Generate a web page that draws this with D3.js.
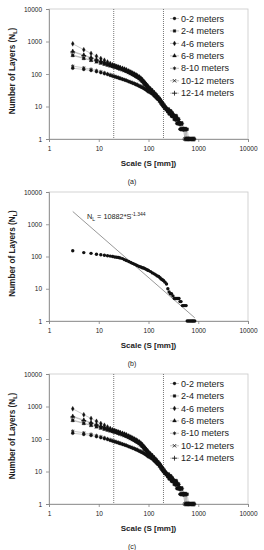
<!DOCTYPE html>
<html>
<head>
<meta charset="utf-8">
<script src="https://cdn.jsdelivr.net/npm/d3@7"></script>
<style>
  body { margin: 0; background: #fff; }
  svg { display: block; }
  text { font-family: "Liberation Sans", Arial, sans-serif; fill: #222; }
</style>
</head>
<body>
<svg id="chart" width="264" height="550"></svg>
<script>
// scale values (mm) at which layers were counted
const scaleGrid = [3,5,7,9,11,13,15,17,19,21,23,25,27,30,33,36,40,44,48,52,56,60,65,70,75,80,85,90,95,100,
  110,120,130,140,150,160,170,180,190,200,215,230,245,260,275,290,310,330,350,370,390,410,430,450,480,
  510,540,570,600,640,680,720,760,800,850];

const seriesNames = ['0-2 meters','2-4 meters','4-6 meters','6-8 meters','8-10 meters','10-12 meters','12-14 meters'];

// number of layers per depth interval
const depth0_2 = [150,138,128,118,110,102,96,90,85,81,78,75,72,68,65,62,58,55,52,50,47,45,42,40,38,36,34,32,30,28,
  26,24,21,19,17,16,14,13,11,10,9,8,7,6,6,5,5,4,4,3,3,3,2,2,2,2,2,1,1,1,1];
const depth2_4 = [370,300,262,236,216,200,188,178,170,163,156,150,143,135,127,120,111,103,96,90,84,79,72,66,59,53,48,44,40,36,
  31,27,24,21,19,17,15,13,12,10,9,8,7,7,6,6,5,5,4,4,3,3,3,2,2,2,2,2,2,1,1,1,1];
const depth4_6 = [850,560,430,350,300,265,235,210,192,182,172,165,158,150,142,135,125,116,108,101,95,89,82,75,68,60,54,48,44,40,
  35,31,27,24,21,19,17,15,13,12,10,9,8,8,7,7,6,5,5,5,4,4,3,3,3,2,2,2,1,1,1,1,1,1,1];
const depth6_8 = [500,385,320,280,250,228,210,195,183,175,168,160,153,145,138,130,121,112,104,97,91,85,78,71,64,57,51,46,42,38,
  33,29,26,23,20,18,16,14,12,11,10,9,8,7,7,6,6,5,5,4,4,3,3,3,2,2,2,1,1,1,1];
const depth8_10 = [175,155,140,128,118,110,102,96,90,86,82,78,75,71,67,64,60,57,54,51,49,47,44,42,40,38,36,34,32,30,
  27,25,22,20,18,16,15,13,12,10,9,8,7,6,6,5,5,4,4,4,3,3,3,3,2,2,2,2,1,1,1,1,1,1];
const depth10_12 = [385,310,268,240,220,204,190,180,172,165,158,151,144,136,128,121,112,104,97,91,85,80,73,67,60,54,49,44,40,36,
  32,28,24,22,19,17,15,13,12,11,9,8,8,7,6,6,5,5,5,4,4,3,3,3,2,2,1,1,1];
const depth12_14 = [480,370,310,270,242,220,203,190,178,170,162,155,148,140,132,124,115,107,100,94,88,82,75,68,62,56,50,45,41,37,
  32,28,25,22,19,17,15,13,12,11,9,8,8,7,6,6,5,5,4,4,4,3,3,2,2,2,1,1];
const seriesValues = [depth0_2, depth2_4, depth4_6, depth6_8, depth8_10, depth10_12, depth12_14];

// all depths combined, panel (b)
const totalValues = [150,132,125,118,113,109,106,103,100,97,95,93,90,86,80,75,70,65,61,58,55,52,49,47,45,44,42,40,38,37,
  34,31,29,27,25,24,22,20,19,18,16,14,10,8,7,7,6,5,5,5,5,5,4,4,3,3,3,3,1,1,1,1,1,1,1];

// power law fit N = a * S^b
const fitCoef = 10882;
const fitExp = -1.344;
const fitRange = [3, 850];

const cutoffs = [20, 200];
const xTicks = [1, 10, 100, 1000, 10000];
const yTicks = [1, 10, 100, 1000, 10000];

const symbolTypes = [d3.symbolCircle, d3.symbolSquare, d3.symbolDiamond, d3.symbolTriangle,
  d3.symbolAsterisk || d3.symbolStar, d3.symbolX || d3.symbolCross, d3.symbolPlus || d3.symbolCross];
const strokeSymbols = [false, false, false, false, true, true, true];

const svg = d3.select('#chart');
const left = 49, right = 248;

const panels = [
  { top: 9, bottom: 139, kind: 'depth', label: '(a)' },
  { top: 192, bottom: 321, kind: 'total', label: '(b)' },
  { top: 374, bottom: 504, kind: 'depth', label: '(c)' }
];

function drawPanel(p) {
  const g = svg.append('g');
  const x = d3.scaleLog().domain([1, 10000]).range([left, right]);
  const y = d3.scaleLog().domain([1, 10000]).range([p.bottom, p.top]);

  // plot area frame
  g.append('rect')
    .attr('x', left).attr('y', p.top)
    .attr('width', right - left).attr('height', p.bottom - p.top)
    .attr('fill', 'none').attr('stroke', '#c8c8c8').attr('stroke-width', 0.8);

  // axes
  const xAxis = d3.axisBottom(x).tickValues(xTicks).tickFormat(d3.format('d')).tickSize(3).tickPadding(4);
  const yAxis = d3.axisLeft(y).tickValues(yTicks).tickFormat(d3.format('d')).tickSize(3).tickPadding(4);
  const gx = g.append('g').attr('transform', `translate(0,${p.bottom})`).call(xAxis);
  const gy = g.append('g').attr('transform', `translate(${left},0)`).call(yAxis);
  [gx, gy].forEach(a => {
    a.select('.domain').attr('stroke', '#868686').attr('stroke-width', 0.8);
    a.selectAll('.tick line').attr('stroke', '#868686').attr('stroke-width', 0.8);
    a.selectAll('.tick text').attr('font-size', 6.5).attr('fill', '#222')
      .style('font-family', '"Liberation Sans", Arial, sans-serif');
  });

  // axis titles
  g.append('text')
    .attr('x', (left + right) / 2).attr('y', p.bottom + 27)
    .attr('text-anchor', 'middle').attr('font-size', 8).attr('font-weight', 'bold')
    .text('Scale (S [mm])');
  const yt = g.append('text')
    .attr('transform', `translate(15,${(p.top + p.bottom) / 2 - 3}) rotate(-90)`)
    .attr('text-anchor', 'middle').attr('font-size', 8.2).attr('font-weight', 'bold');
  yt.append('tspan').text('Number of Layers (N');
  yt.append('tspan').attr('font-size', 5.5).attr('dy', 2).text('L');
  yt.append('tspan').attr('dy', -2).text(')');

  g.append('text')
    .attr('x', 132).attr('y', p.bottom + 45)
    .attr('text-anchor', 'middle').attr('font-size', 7)
    .text(p.label);

  if (p.kind === 'depth') {
    // cutoff lines
    g.selectAll('line.cut').data(cutoffs).join('line')
      .attr('x1', d => x(d)).attr('x2', d => x(d))
      .attr('y1', p.top).attr('y2', p.bottom)
      .attr('stroke', '#555').attr('stroke-width', 0.8).attr('stroke-dasharray', '1,1');

    const line = d3.line().x((d, i) => x(scaleGrid[i])).y(d => y(d));
    seriesValues.forEach(vals => {
      g.append('path').attr('d', line(vals))
        .attr('fill', 'none').attr('stroke', '#a8a8a8').attr('stroke-width', 0.6);
    });
    seriesValues.forEach((vals, si) => {
      const sym = d3.symbol().type(symbolTypes[si]).size(strokeSymbols[si] ? 9 : 7);
      g.append('g').selectAll('path').data(vals).join('path')
        .attr('transform', (d, i) => `translate(${x(scaleGrid[i])},${y(d)})`)
        .attr('d', sym)
        .attr('fill', strokeSymbols[si] ? 'none' : '#111')
        .attr('stroke', '#111').attr('stroke-width', strokeSymbols[si] ? 0.8 : 0.3);
    });

    // legend
    const lg = g.append('g');
    seriesNames.forEach((name, si) => {
      const ly = p.top + 9.5 + si * 12.45;
      lg.append('line').attr('x1', 170).attr('x2', 179).attr('y1', ly).attr('y2', ly)
        .attr('stroke', '#a8a8a8').attr('stroke-width', 0.7);
      lg.append('path')
        .attr('transform', `translate(174.5,${ly})`)
        .attr('d', d3.symbol().type(symbolTypes[si]).size(strokeSymbols[si] ? 9 : 7)())
        .attr('fill', strokeSymbols[si] ? 'none' : '#111')
        .attr('stroke', '#111').attr('stroke-width', strokeSymbols[si] ? 0.8 : 0.3);
      lg.append('text').attr('x', 181).attr('y', ly).attr('dy', '0.35em')
        .attr('font-size', 9).text(name);
    });
  } else {
    const fit = fitRange.map(s => [s, fitCoef * Math.pow(s, fitExp)]);
    g.append('line')
      .attr('x1', x(fit[0][0])).attr('y1', y(fit[0][1]))
      .attr('x2', x(fit[1][0])).attr('y2', y(fit[1][1]))
      .attr('stroke', '#8c8c8c').attr('stroke-width', 0.9);

    g.append('g').selectAll('circle').data(totalValues).join('circle')
      .attr('cx', (d, i) => x(scaleGrid[i])).attr('cy', d => y(d))
      .attr('r', 1.7).attr('fill', '#111');

    const eq = g.append('text').attr('x', 87).attr('y', p.top + 27).attr('font-size', 7.3);
    eq.append('tspan').text('N');
    eq.append('tspan').attr('font-size', 5).attr('dy', 1.5).text('L');
    eq.append('tspan').attr('dy', -1.5).text(' = 10882*S');
    eq.append('tspan').attr('font-size', 5).attr('dy', -3).text('-1.344');
  }
}

panels.forEach(drawPanel);
</script>
</body>
</html>
